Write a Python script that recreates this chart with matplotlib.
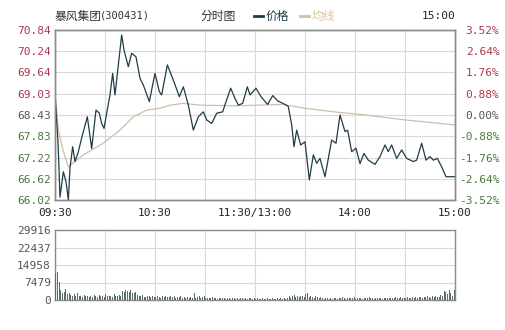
import matplotlib
matplotlib.use('Agg')
import matplotlib.pyplot as plt

plt.rcParams['font.family'] = ['DejaVu Sans Mono', 'Noto Sans CJK SC']

# %% data
base_price = 68.43
price_ticks = [66.02, 66.62, 67.22, 67.83, 68.43, 69.03, 69.64, 70.24, 70.84]
pct_labels = ['-3.52%', '-2.64%', '-1.76%', '-0.88%', '0.00%', '0.88%', '1.76%', '2.64%', '3.52%']
vol_ticks = [0, 7479, 14958, 22437, 29916]
time_labels = ['09:30', '', '10:30', '', '11:30/13:00', '', '14:00', '', '15:00']

price_min = [0, 1.8, 3, 5, 6.6, 8, 9, 10.6, 12, 14, 16, 19.4, 22, 24.6, 26.6, 28, 29.4,
             31, 33, 34.6, 36, 38, 40, 41.4, 44, 46, 48.6, 51, 53, 56.6, 60, 62.6, 64,
             67.4, 71, 74.6, 77, 80, 83, 86, 89, 91, 94, 97, 100.6, 103, 105.4, 108,
             110, 112.6, 115.4, 117, 120.6, 123.6, 127.6, 130.6, 133.6, 138, 140, 142,
             143.4, 145, 147.4, 150, 152.6, 155, 157, 159, 162, 166, 168.6, 171, 174,
             175.6, 178, 180.6, 183, 185.4, 188, 192, 195, 198, 200, 202, 205, 208,
             211, 215, 217, 220, 222.6, 225, 227, 229.4, 232, 234.6, 240]
price_val = [69.05, 67.67, 66.10, 66.82, 66.54, 66.02, 66.93, 67.53, 67.11, 67.39, 67.78,
             68.38, 67.48, 68.57, 68.48, 68.19, 68.05, 68.48, 69.00, 69.61, 69.00, 69.85,
             70.70, 70.27, 69.80, 70.18, 70.08, 69.47, 69.28, 68.81, 69.61, 69.09, 69.00,
             69.85, 69.42, 68.95, 69.23, 68.71, 68.00, 68.38, 68.52, 68.29, 68.19, 68.48,
             68.52, 68.86, 69.19, 68.90, 68.71, 68.76, 69.23, 69.00, 69.19, 68.95, 68.73,
             68.98, 68.83, 68.73, 68.67, 68.15, 67.53, 68.00, 67.58, 67.67, 66.59, 67.30,
             67.06, 67.20, 66.68, 67.72, 67.63, 68.43, 67.96, 68.00, 67.39, 67.49, 67.05,
             67.34, 67.15, 67.03, 67.25, 67.58, 67.39, 67.58, 67.20, 67.44, 67.20, 67.11,
             67.15, 67.63, 67.15, 67.25, 67.15, 67.20, 66.96, 66.68, 66.68]

avg_min = [0, 2, 5, 8, 17, 29, 39, 47, 55, 63, 69, 77, 87, 107, 123, 137, 150, 171, 183, 210, 240]
avg_val = [69.05, 68.00, 67.40, 66.96, 67.30, 67.63, 68.00, 68.38, 68.57, 68.62, 68.71,
           68.76, 68.71, 68.69, 68.71, 68.73, 68.62, 68.50, 68.45, 68.29, 68.15]

volume = [
    11400, 12100, 7800, 4200, 2800, 3500, 4700, 2600, 3000, 2200,
    1900, 2400, 1600, 2800, 1500, 1800, 1300, 2000, 1700, 1500,
    1400, 1900, 1200, 2300, 1600, 1400, 2100, 1800, 1500, 1300,
    2400, 1700, 1500, 1900, 1400, 2600, 1800, 1600, 2200, 1500,
    4000, 3600, 4300, 3800, 3500, 4100, 3200, 2900, 3400, 2000,
    1800, 1500, 2200, 1400, 1200, 1600, 1900, 1300, 1500, 1100,
    1400, 1700, 1200, 1000, 1500, 1300, 1800, 1100, 1400, 1600,
    1200, 1900, 1000, 1300, 1100, 1500, 900, 1200, 1000, 1400,
    800, 1100, 900, 2900, 1000, 1200, 1500, 900, 1100, 1800,
    900, 700, 1000, 800, 1200, 700, 900, 600, 800, 1000,
    700, 800, 600, 900, 700, 600, 800, 700, 500, 900,
    600, 800, 700, 500, 900, 600, 700, 800, 600, 700,
    500, 700, 600, 500, 800, 600, 500, 700, 600, 500,
    700, 600, 500, 800, 600, 700, 500, 900, 600, 800,
    1900, 1000, 1600, 2200, 1200, 1800, 1100, 1500, 1900, 1300,
    2400, 2900, 1200, 1700, 1400, 1000, 1600, 1200, 900, 1300,
    800, 600, 900, 700, 500, 800, 600, 700, 900, 600,
    700, 900, 1100, 800, 600, 900, 1000, 700, 800, 1100,
    600, 800, 700, 1000, 600, 900, 700, 800, 1100, 700,
    800, 600, 900, 700, 1000, 800, 600, 900, 700, 800,
    900, 700, 1000, 800, 1200, 700, 900, 1100, 800, 1000,
    900, 1200, 800, 1000, 1300, 900, 1100, 1000, 1400, 1200,
    1000, 1300, 1100, 1600, 1200, 1000, 1500, 1300, 1800, 1200,
    1400, 2000, 1600, 3800, 3500, 2400, 4200, 2800, 1900, 4100,
]

# %% colours
red = '#a83a4c'
green = '#4a7a3c'
grey = '#555555'
line_col = '#1f3d45'
avg_col = '#cdbfa8'
grid_col = '#d9d9d9'
frame_col = '#8c8c8c'
cjk = ['Noto Sans CJK SC', 'DejaVu Sans']

W, H = 505, 330
fig = plt.figure(figsize=(W / 100, H / 100), dpi=100)
fig.patch.set_facecolor('white')

ax = fig.add_axes([55 / W, 130 / H, 400 / W, 170 / H])
axv = fig.add_axes([55 / W, 30 / H, 400 / W, 70 / H])

# main price panel
ax.plot(avg_min, avg_val, color=avg_col, lw=0.9, zorder=3)
ax.plot(price_min, price_val, color=line_col, lw=0.9, zorder=4)
ax.set_xlim(0, 240)
ax.set_ylim(price_ticks[0], price_ticks[-1])
ax.set_xticks(range(0, 241, 30))
ax.set_xticklabels(time_labels, fontsize=8, color='#222222')
ax.set_yticks(price_ticks)
ax.set_yticklabels([f'{p:.2f}' for p in price_ticks], fontsize=8)


def tick_colour(v):
    if abs(v - base_price) < 0.005:
        return grey
    return red if v > base_price else green


for lab, v in zip(ax.get_yticklabels(), price_ticks):
    lab.set_color(tick_colour(v))
ax.tick_params(axis='y', length=0, pad=3)
ax.tick_params(axis='x', length=0, pad=6)
ax.grid(True, color=grid_col, lw=0.8)

ax2 = ax.twinx()
ax2.set_ylim(price_ticks[0], price_ticks[-1])
ax2.set_yticks(price_ticks)
ax2.set_yticklabels(pct_labels, fontsize=8, ha='right')
for lab, v in zip(ax2.get_yticklabels(), price_ticks):
    lab.set_color(tick_colour(v))
ax2.tick_params(length=0, pad=32)

for a in (ax, ax2, axv):
    for s in a.spines.values():
        s.set_color(frame_col)
        s.set_linewidth(1.0)

# volume panel
axv.bar([m + 0.2 for m in range(len(volume))], volume, width=0.55, align='edge',
        color='#5a6e6c', zorder=3)
axv.set_xlim(0, 240)
axv.set_ylim(0, vol_ticks[-1])
axv.set_xticks(range(0, 241, 30))
axv.set_xticklabels([])
axv.set_yticks(vol_ticks)
axv.set_yticklabels([str(v) for v in vol_ticks], fontsize=8, color=grey)
axv.tick_params(length=0, pad=3)
axv.grid(True, color=grid_col, lw=0.8)

# header
ty = 1 - 16 / H
fig.text(55 / W, ty, '暴风集团', family=cjk, fontsize=8.5, color='#333333', va='center')
fig.text(100 / W, ty, '(300431)', fontsize=7.5, color='#333333', va='center')
fig.text(200 / W, ty, '分时图', family=cjk, fontsize=8.5, color='#333333', va='center')
fig.lines.append(plt.Line2D([254 / W, 263 / W], [ty, ty], color=line_col, lw=2,
                            transform=fig.transFigure))
fig.text(266 / W, ty, '价格', family=cjk, fontsize=8.5, color=line_col, va='center')
fig.lines.append(plt.Line2D([300 / W, 309 / W], [ty, ty], color=avg_col, lw=2,
                            transform=fig.transFigure))
fig.text(312 / W, ty, '均线', family=cjk, fontsize=8.5, color='#d6c7a8', va='center')
fig.text(455 / W, ty, '15:00', fontsize=8, color='#222222', va='center', ha='right')

fig.savefig('out.png', dpi=100, facecolor='white')
